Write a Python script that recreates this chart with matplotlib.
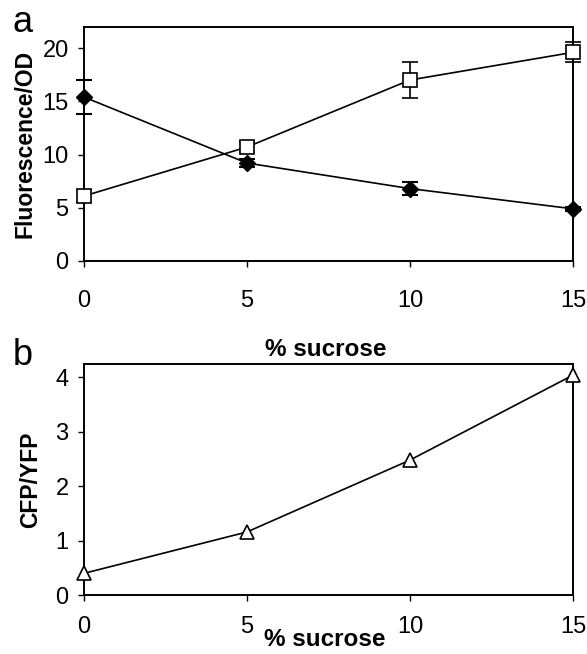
import matplotlib
matplotlib.use("Agg")
import matplotlib.pyplot as plt

plt.rcParams['font.family'] = ['Liberation Sans', 'DejaVu Sans']

# data
sucrose = [0, 5, 10, 15]
filled = [15.4, 9.2, 6.8, 4.9]
filled_err = [1.6, 0.4, 0.6, 0.2]
open_sq = [6.1, 10.7, 17.0, 19.6]
open_err = [0.6, 0.5, 1.7, 0.95]
cfp_yfp = [0.4, 1.16, 2.48, 4.04]

fig = plt.figure(figsize=(5.87, 6.54), dpi=100)
ax1 = fig.add_axes([0.143, 0.601, 0.833, 0.358])
ax2 = fig.add_axes([0.143, 0.090, 0.833, 0.353])

ax1.errorbar(sucrose, filled, yerr=filled_err, color='black', lw=1.2,
             marker='D', ms=8, mfc='black', mec='black', capsize=6,
             elinewidth=1.2, capthick=1.5, clip_on=False, zorder=3)
ax1.errorbar(sucrose, open_sq, yerr=open_err, color='black', lw=1.2,
             marker='s', ms=10, mfc='white', mec='black', mew=1.2, capsize=6,
             elinewidth=1.2, capthick=1.5, clip_on=False, zorder=4)
ax1.set_xlim(0, 15)
ax1.set_ylim(0, 22)
ax1.set_yticks([0, 5, 10, 15, 20])
ax1.set_ylabel('Fluorescence/OD', fontsize=16.5, fontweight='bold', labelpad=4)

ax2.plot(sucrose, cfp_yfp, color='black', lw=1.2, marker='^', ms=10,
         mfc='white', mec='black', mew=1.2, clip_on=False, zorder=3)
ax2.set_xlim(0, 15)
ax2.set_ylim(0, 4.24)
ax2.set_yticks([0, 1, 2, 3, 4])
ax2.set_ylabel('CFP/YFP', fontsize=16.5, fontweight='bold', labelpad=10)

for ax, xpad in ((ax1, 17), (ax2, 11)):
    ax.set_xticks(sucrose)
    for s in ax.spines.values():
        s.set_linewidth(1.4)
    ax.tick_params(axis='x', direction='out', length=4, width=1, pad=xpad, labelsize=17)
    ax.tick_params(axis='y', direction='out', length=4, width=1, pad=7, labelsize=17)

fig.text(0.022, 0.965, 'a', fontsize=26, ha='left', va='center')
fig.text(0.022, 0.457, 'b', fontsize=26, ha='left', va='center')
fig.text(0.555, 0.465, '% sucrose', fontsize=17.5, fontweight='bold', ha='center', va='center')
fig.text(0.554, 0.022, '% sucrose', fontsize=17.5, fontweight='bold', ha='center', va='center')

fig.savefig('out.png', dpi=100)
